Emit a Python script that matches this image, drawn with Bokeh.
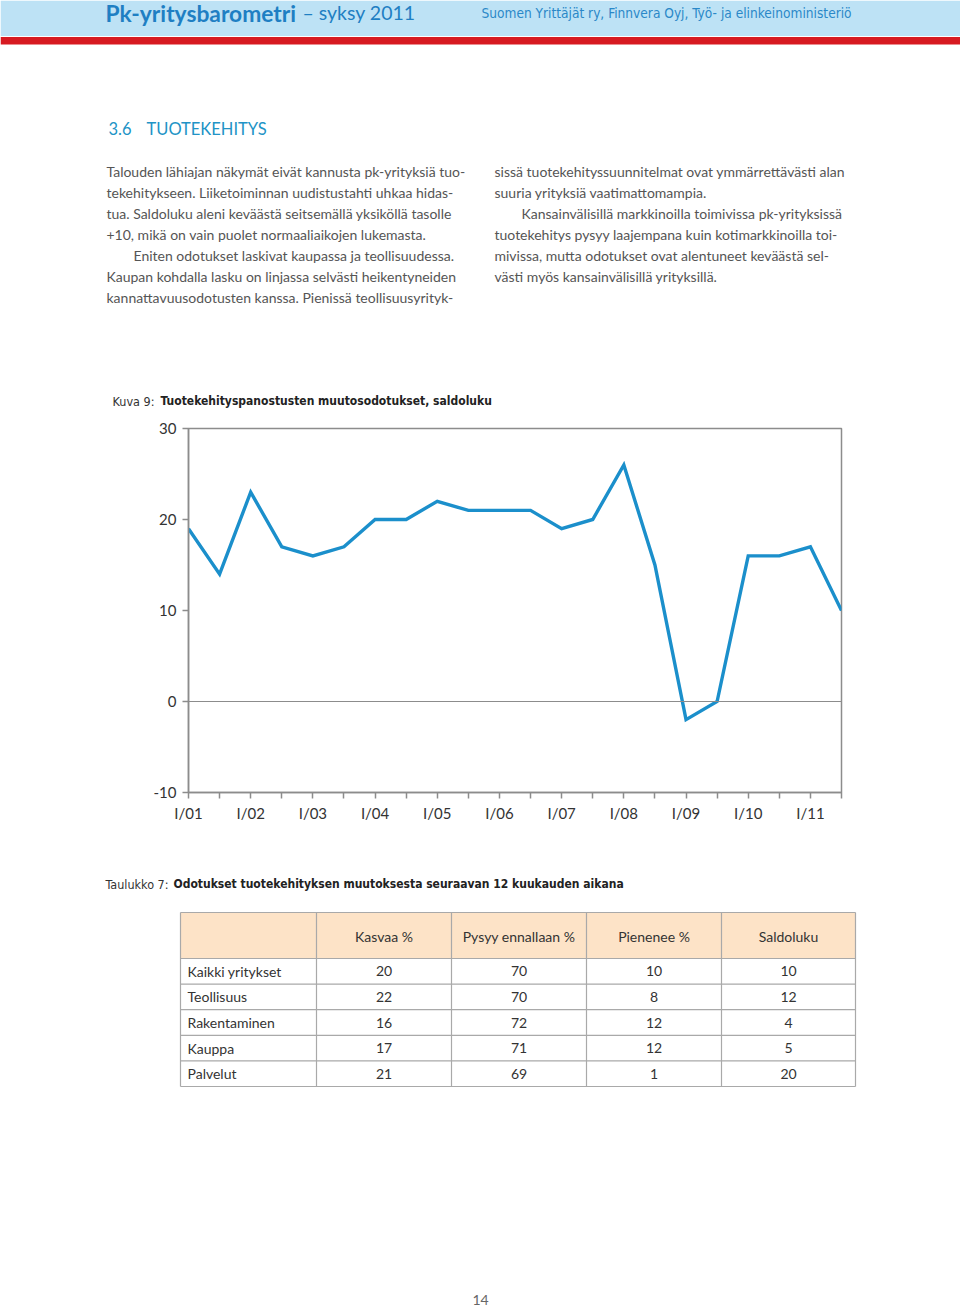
from bokeh.plotting import figure
from bokeh.layouts import column
from bokeh.models import Range1d, FixedTicker, Span
from bokeh.embed import file_html
from bokeh.resources import INLINE
from bokeh.core.properties import value

# ---------------- data ----------------
periods = ["I/01", "II/01", "I/02", "II/02", "I/03", "II/03", "I/04", "II/04",
           "I/05", "II/05", "I/06", "II/06", "I/07", "II/07", "I/08", "II/08",
           "I/09", "II/09", "I/10", "II/10", "I/11", "II/11"]
saldoluku = [19, 14, 23, 17, 16, 17, 20, 20, 22, 21, 21, 21, 19, 20, 26, 15,
             -2, 0, 16, 16, 17, 10]
y_ticks = [-10, 0, 10, 20, 30]

table_rows = ["Kaikki yritykset", "Teollisuus", "Rakentaminen", "Kauppa", "Palvelut"]
table_cols = ["Kasvaa %", "Pysyy ennallaan %", "Pienenee %", "Saldoluku"]
kasvaa = [20, 22, 16, 17, 21]
pysyy = [70, 70, 72, 71, 69]
pienenee = [10, 8, 12, 12, 1]
saldo = [10, 12, 4, 5, 20]

left_lines = [
    "Talouden lähiajan näkymät eivät kannusta pk-yrityksiä tuo-",
    "tekehitykseen. Liiketoiminnan uudistustahti uhkaa hidas-",
    "tua. Saldoluku aleni keväästä seitsemällä yksiköllä tasolle",
    "+10, mikä on vain puolet normaaliaikojen lukemasta.",
    "Eniten odotukset laskivat kaupassa ja teollisuudessa.",
    "Kaupan kohdalla lasku on linjassa selvästi heikentyneiden",
    "kannattavuusodotusten kanssa. Pienissä teollisuusyrityk-",
]
left_indent = [0, 0, 0, 0, 1, 0, 0]
right_lines = [
    "sissä tuotekehityssuunnitelmat ovat ymmärrettävästi alan",
    "suuria yrityksiä vaatimattomampia.",
    "Kansainvälisillä markkinoilla toimivissa pk-yrityksissä",
    "tuotekehitys pysyy laajempana kuin kotimarkkinoilla toi-",
    "mivissa, mutta odotukset ovat alentuneet keväästä sel-",
    "västi myös kansainvälisillä yrityksillä.",
]
right_indent = [0, 0, 1, 0, 0, 0]

BODY_FONT = "Lato"
NARROW = "'Liberation Sans Narrow', 'DejaVu Sans Condensed', 'Noto Sans', sans-serif"
BLUE = "#1b8fcb"
GRAY = "#8c8c8c"
W = 960


def page_fig(y0, y1):
    f = figure(width=W, height=y1 - y0, x_range=Range1d(0, W),
               y_range=Range1d(y1, y0), output_backend="svg",
               toolbar_location=None, x_axis_location=None,
               y_axis_location=None, min_border=0)
    f.min_border_left = f.min_border_right = 0
    f.min_border_top = f.min_border_bottom = 0
    f.frame_align = False
    f.grid.visible = False
    f.outline_line_color = None
    f.background_fill_color = "white"
    f.border_fill_color = "white"
    return f


# ---------------- top part: header + text ----------------
a = page_fig(0, 415)
a.quad(left=[0], right=[W], top=[0], bottom=[35.5], color="#bde2f5", line_color=None)
a.quad(left=[0], right=[W], top=[36.5], bottom=[44], color="#d71a21", line_color=None)
a.text(x=[105], y=[12], text=["Pk-yritysbarometri"], text_font=value(BODY_FONT),
       text_font_style="bold", text_font_size="22.8px", text_color="#1f7fc3",
       text_baseline="middle")
a.text(x=[302], y=[12], text=["– syksy 2011"], text_font=value(BODY_FONT),
       text_font_size="19.5px", text_color="#1f7fc3", text_baseline="middle")
a.text(x=[481], y=[12], text=["Suomen Yrittäjät ry, Finnvera Oyj, Työ- ja elinkeinoministeriö"],
       text_font=value(NARROW), text_font_size="13.6px", text_color="#2a88c8",
       text_baseline="middle")

a.text(x=[108, 146], y=[128, 128], text=["3.6", "TUOTEKEHITYS"], text_font=value(BODY_FONT),
       text_font_size="16.5px", text_color="#2193c6", text_baseline="middle")

a.text(x=[106 + 27 * i for i in left_indent], y=[171 + 21 * k for k in range(len(left_lines))],
       text=left_lines, text_font=value(BODY_FONT), text_font_size="14px",
       text_color="#555555", text_baseline="middle")
a.text(x=[494 + 27 * i for i in right_indent], y=[171 + 21 * k for k in range(len(right_lines))],
       text=right_lines, text_font=value(BODY_FONT), text_font_size="14px",
       text_color="#555555", text_baseline="middle")

a.text(x=[112], y=[401], text=["Kuva 9:"], text_font=value(NARROW), text_font_size="12.5px",
       text_color="#333333", text_baseline="middle")
a.text(x=[160], y=[400], text=["Tuotekehityspanostusten muutosodotukset, saldoluku"],
       text_font=value(NARROW), text_font_style="bold", text_font_size="12px",
       text_color="#222222", text_baseline="middle")

# ---------------- chart ----------------
p = figure(width=W, height=435, x_range=Range1d(0, len(periods) - 1),
           y_range=Range1d(y_ticks[0], y_ticks[-1]), output_backend="svg",
           toolbar_location=None, min_border_left=188, min_border_right=119,
           min_border_top=13, min_border_bottom=58)
p.frame_align = False
p.grid.visible = False
p.outline_line_color = GRAY
p.outline_line_width = 1.5
p.background_fill_color = "white"
p.border_fill_color = "white"

p.add_layout(Span(location=0, dimension="width", line_color=GRAY, line_width=1.2))
p.line(x=list(range(len(periods))), y=saldoluku, line_width=3.4, line_color=BLUE,
       line_join="miter")

p.xaxis.ticker = FixedTicker(ticks=list(range(len(periods))))
p.xaxis.major_label_overrides = {i: (lab if lab.startswith("I/") else "")
                                 for i, lab in enumerate(periods)}
p.yaxis.ticker = FixedTicker(ticks=y_ticks)
p.yaxis.major_label_overrides = {t: str(t) for t in y_ticks}
for ax in (p.xaxis[0], p.yaxis[0]):
    ax.axis_line_color = GRAY
    ax.axis_line_width = 1.5
    ax.major_tick_line_color = GRAY
    ax.major_tick_line_width = 1.5
    ax.major_tick_out = 6
    ax.major_tick_in = 0
    ax.minor_tick_out = 0
    ax.minor_tick_in = 0
    ax.major_label_text_font = BODY_FONT
    ax.major_label_text_font_size = "15px"
    ax.major_label_text_color = "#333333"
p.xaxis.major_label_standoff = 5
p.yaxis.major_label_standoff = 6

# ---------------- table ----------------
c = page_fig(850, 1307)
c.text(x=[105], y=[884], text=["Taulukko 7:"], text_font=value(NARROW), text_font_size="12.5px",
       text_color="#333333", text_baseline="middle")
c.text(x=[173], y=[883], text=["Odotukset tuotekehityksen muutoksesta seuraavan 12 kuukauden aikana"],
       text_font=value(NARROW), text_font_style="bold", text_font_size="12px",
       text_color="#222222", text_baseline="middle")

col_edges = [180, 316, 451, 586, 721, 855]
head_top, head_bot = 912, 958
row_h = 25.6
n_rows = len(table_rows)
row_edges = [head_bot + row_h * k for k in range(n_rows + 1)]

c.quad(left=[col_edges[0]], right=[col_edges[-1]], top=[head_top], bottom=[head_bot],
       color="#fde3c7", line_color=None)
hy = [head_top] + row_edges
c.segment(x0=[col_edges[0]] * len(hy), x1=[col_edges[-1]] * len(hy), y0=hy, y1=hy,
          line_color="#a9a9a9", line_width=1.2)
c.segment(x0=col_edges, x1=col_edges, y0=[head_top] * len(col_edges),
          y1=[row_edges[-1]] * len(col_edges), line_color="#a9a9a9", line_width=1.2)

col_centers = [(col_edges[i + 1] + col_edges[i + 2]) / 2 for i in range(len(table_cols))]
c.text(x=col_centers, y=[936] * len(table_cols), text=table_cols, text_font=value(BODY_FONT),
       text_font_size="14px", text_color="#333333", text_baseline="middle", text_align="center")

row_centers = [(row_edges[k] + row_edges[k + 1]) / 2 for k in range(n_rows)]
c.text(x=[187] * n_rows, y=row_centers, text=table_rows, text_font=value(BODY_FONT),
       text_font_size="14px", text_color="#333333", text_baseline="middle")
for j, vals in enumerate([kasvaa, pysyy, pienenee, saldo]):
    c.text(x=[col_centers[j]] * n_rows, y=row_centers, text=[str(v) for v in vals],
           text_font=value(BODY_FONT), text_font_size="14px", text_color="#333333",
           text_baseline="middle", text_align="center")

c.text(x=[480], y=[1299], text=["14"], text_font=value(BODY_FONT), text_font_size="14px",
       text_color="#666666", text_baseline="middle", text_align="center")

layout = column(a, p, c, spacing=0)
open("out.html", "w").write(file_html(layout, INLINE))
